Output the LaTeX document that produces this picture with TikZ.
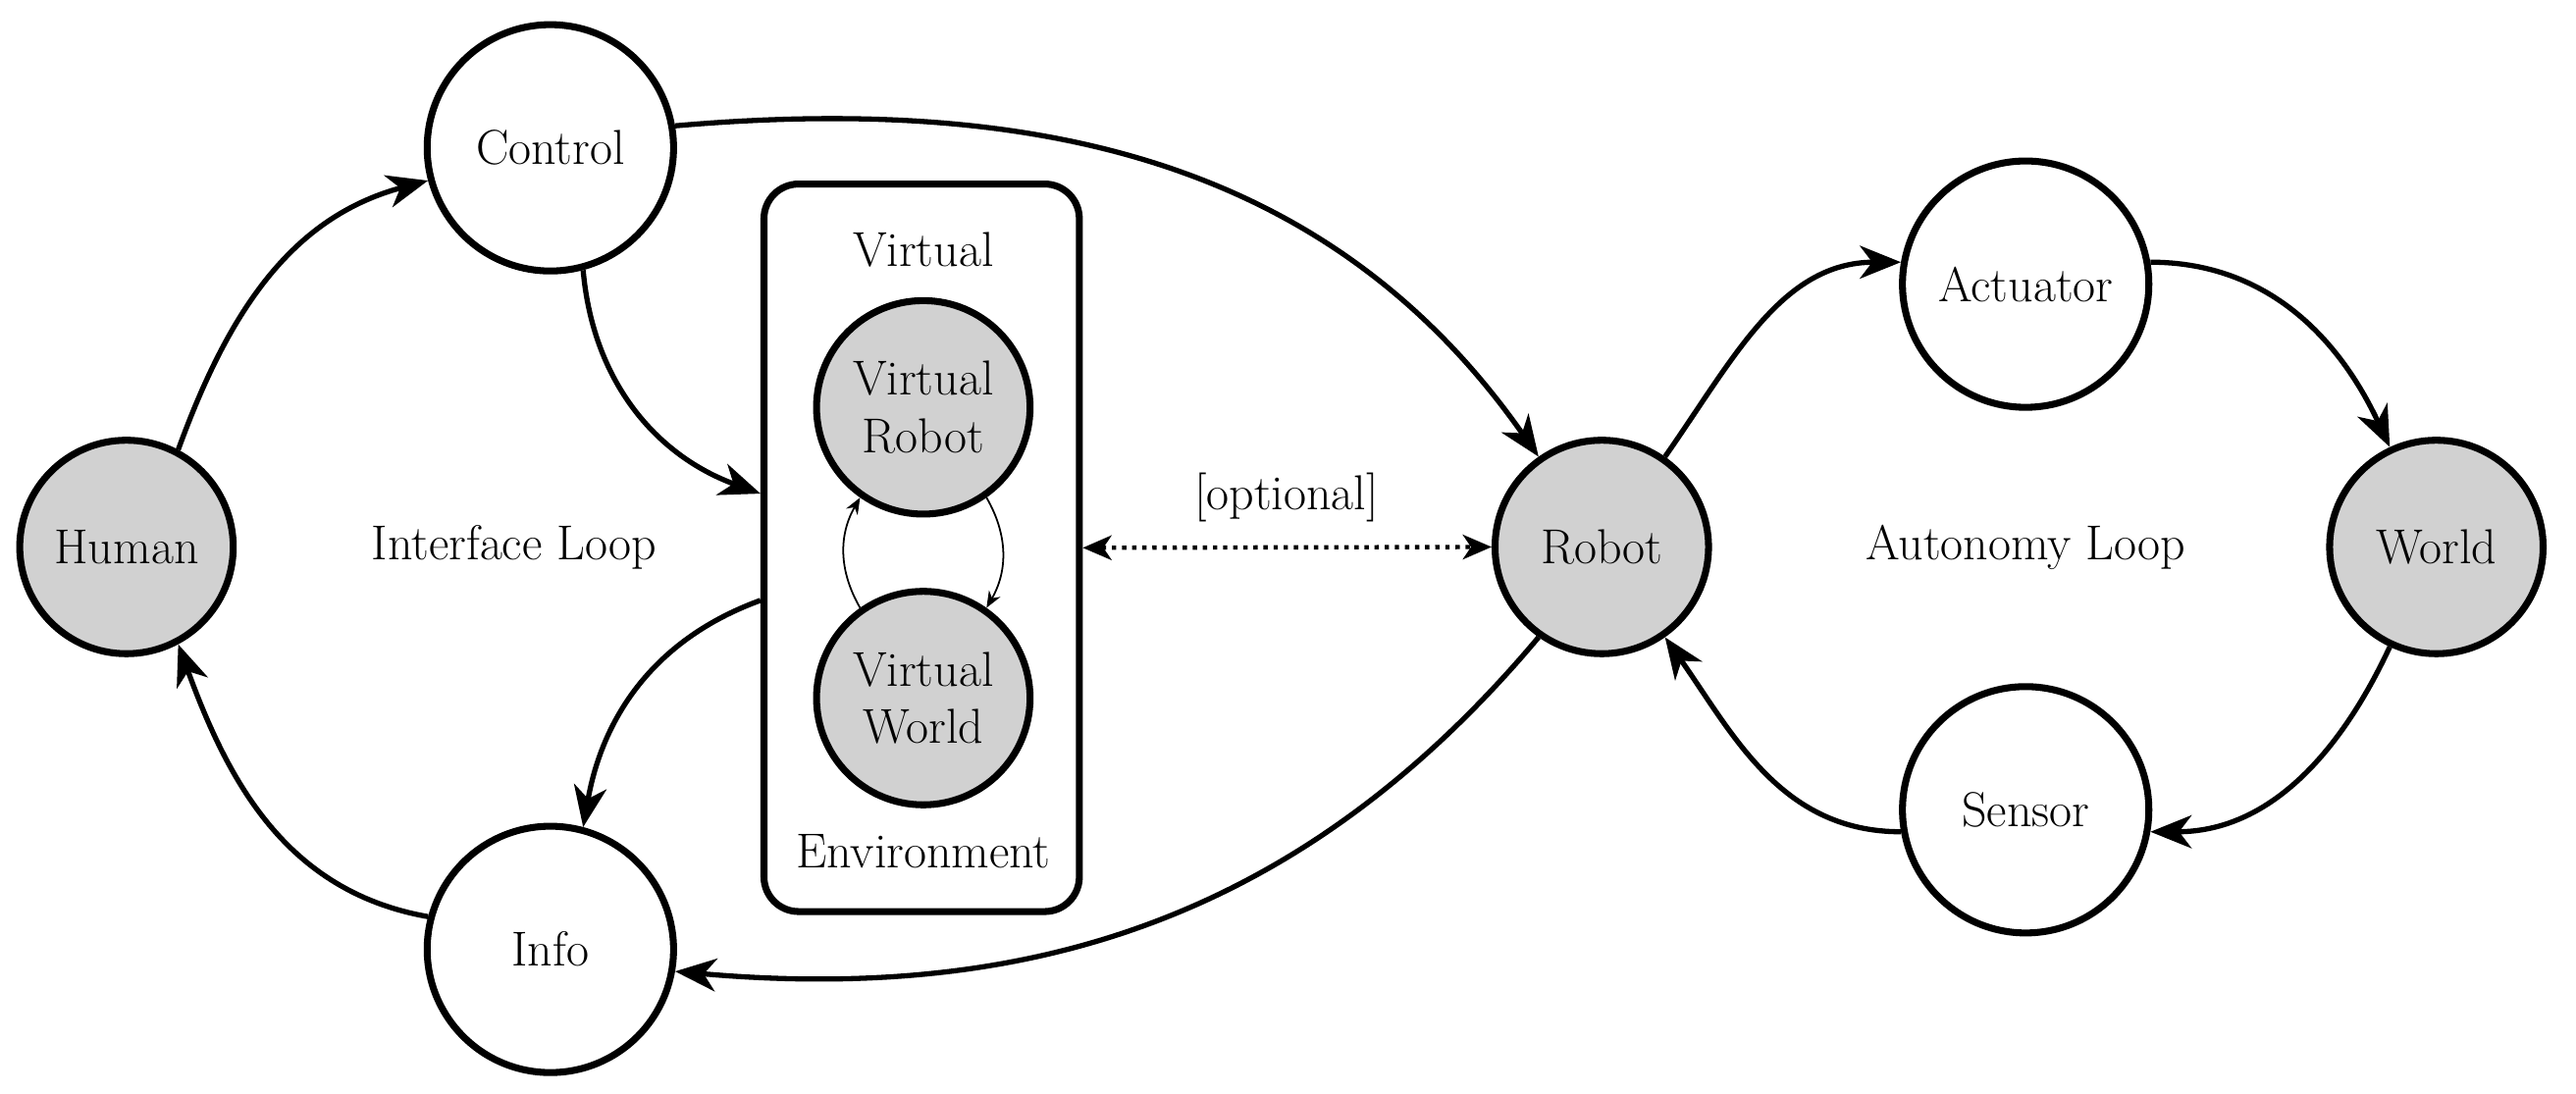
\documentclass[tikz,border=0pt]{standalone}
\usetikzlibrary{arrows.meta}
\begin{document}
\begin{tikzpicture}[x=0.02cm,y=0.02cm,
  >={Stealth[length=5mm,width=4mm,inset=1.5mm]},
  every node/.style={font=\fontsize{17}{20}\selectfont},
  big/.style={circle,draw,line width=2.4pt,minimum size=3cm,inner sep=0pt,fill=white},
  gray/.style={circle,draw,line width=2.4pt,minimum size=2.6cm,inner sep=0pt,fill=black!18,align=center},
  conn/.style={->,line width=1.8pt}]
\useasboundingbox (0,0) rectangle (1568,666);
\node[gray] (human) at (77,333) {Human};
\node[big] (control) at (335,576) {Control};
\node[big] (info) at (335,88) {Info};
\node[gray] (robot) at (975,333) {Robot};
\node[big] (act) at (1233,493) {Actuator};
\node[big] (sensor) at (1233,173) {Sensor};
\node[gray] (world) at (1483,333) {World};
\node[draw,line width=2.4pt,rounded corners=12pt,minimum width=3.84cm,minimum height=8.86cm] (box) at (561,332.5) {};
\node (vlab) at (562,514) {Virtual};
\node (elab) at (562,148) {Environment};
\node[gray] (vr) at (562,418) {Virtual\\Robot};
\node[gray] (vw) at (562,241) {Virtual\\World};
\node (il) at (313,333) {Interface Loop};
\node (al) at (1233,333) {Autonomy Loop};
\node (opt) at (783,363) {[optional]};
\draw[conn] (human.62) to[out=70,in=195] (control.195);
\draw[conn] (control.-75) to[out=-85,in=160] ([yshift=0.66cm]box.west);
\draw[conn] ([yshift=-0.64cm]box.west) to[out=200,in=80] (info.75);
\draw[conn] (info.165) to[out=170,in=-70] (human.-62);
\draw[conn] (control.10) to[out=5,in=125] (robot.125);
\draw[conn] (robot.-125) to[out=-130,in=-5] (info.-10);
\draw[conn] (robot.55) to[out=55,in=180] (act.170);
\draw[conn] (act.10) to[out=0,in=115] (world.115);
\draw[conn] (world.-115) to[out=-115,in=0] (sensor.-10);
\draw[conn] (sensor.190) to[out=180,in=-55] (robot.-55);
\draw[<->,line width=1.5pt,dotted,>={Stealth[length=3.5mm,width=3mm,inset=1mm]}] (box.east) -- (robot.west);
\draw[->,line width=0.6pt,>={Stealth[length=2mm,width=1.6mm]}] (vw.125) to[bend left=30] (vr.235);
\draw[->,line width=0.6pt,>={Stealth[length=2mm,width=1.6mm]}] (vr.-55) to[bend left=30] (vw.55);
\end{tikzpicture}
\end{document}
